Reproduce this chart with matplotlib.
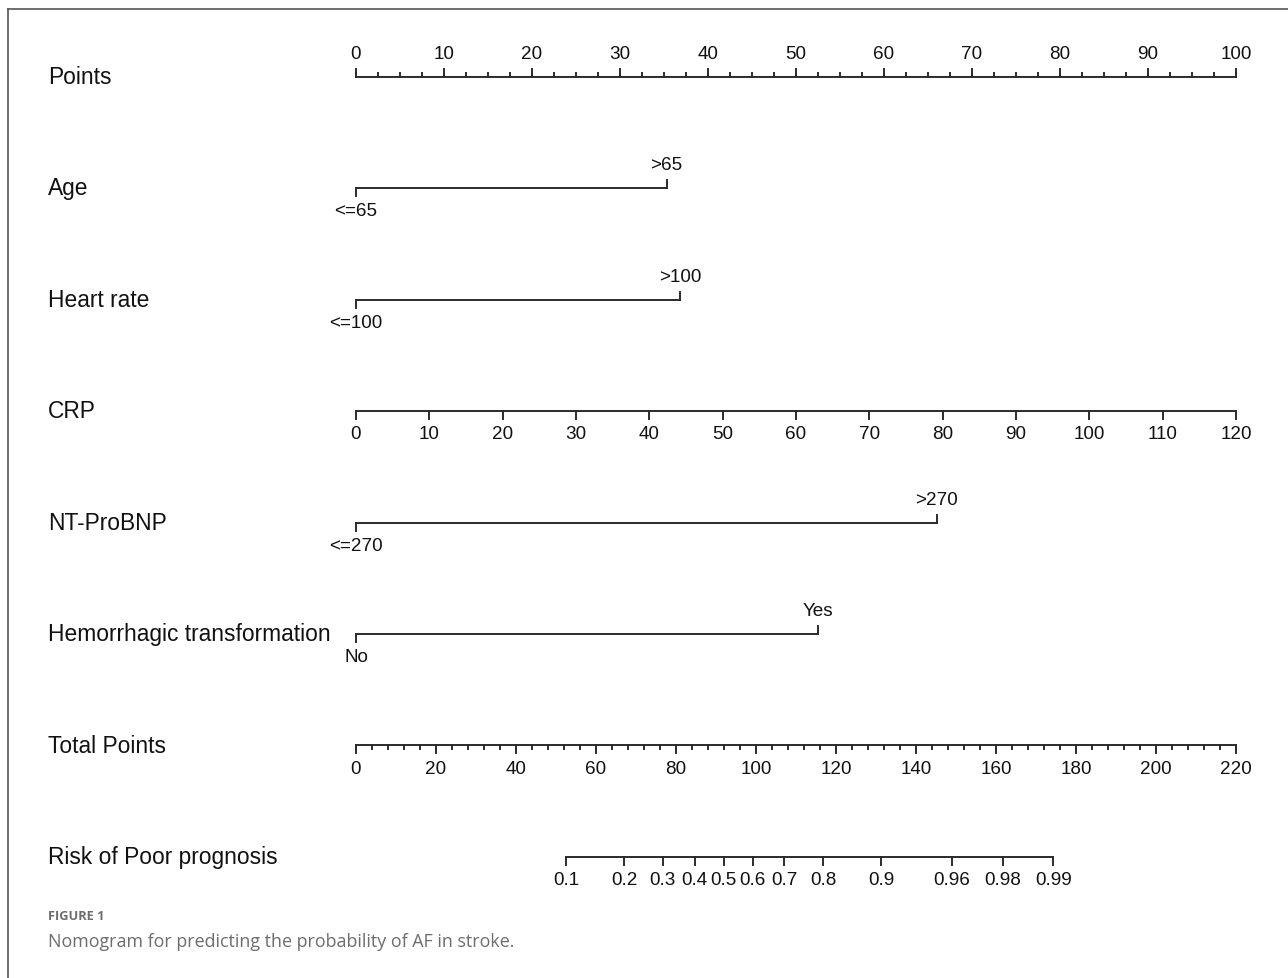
import numpy as np
import matplotlib
matplotlib.use("Agg")
import matplotlib.pyplot as plt
from matplotlib.lines import Line2D
from matplotlib.transforms import blended_transform_factory

plt.rcParams['font.family'] = ['Liberation Sans', 'DejaVu Sans']

# ---- data ----
row_names = ["Points", "Age", "Heart rate", "CRP", "NT-ProBNP",
             "Hemorrhagic transformation", "Total Points", "Risk of Poor prognosis"]

points_ticks = np.arange(0, 101, 10)
points_minor = np.arange(0, 100.1, 2.5)

# categorical predictors: (low label, high label), points for high level
age_levels = ["<=65", ">65"]
age_points = [0, 35.3]
hr_levels = ["<=100", ">100"]
hr_points = [0, 36.8]
ntbnp_levels = ["<=270", ">270"]
ntbnp_points = [0, 66.0]
ht_levels = ["No", "Yes"]
ht_points = [0, 52.5]

# continuous predictor CRP: 0..120 -> 0..100 points
crp_ticks = np.arange(0, 121, 10)
crp_max_points = 100.0
crp_max = 120.0

# total points axis
total_ticks = np.arange(0, 221, 20)
total_minor = np.arange(0, 220.1, 4)
total_max = 220.0

# risk axis: logistic model on total points
risk_probs = [0.1, 0.2, 0.3, 0.4, 0.5, 0.6, 0.7, 0.8, 0.9, 0.96, 0.98, 0.99]
risk_labels = ["0.1", "0.2", "0.3", "0.4", "0.5", "0.6", "0.7", "0.8", "0.9", "0.96", "0.98", "0.99"]
tp_at_half = 91.9        # total points where risk = 0.5
tp_per_logit = 17.93     # total points per unit of linear predictor

# ---- layout ----
W, H = 1288, 979
fig = plt.figure(figsize=(W / 100, H / 100), dpi=100)
ax = fig.add_axes([0, 0, 1, 1])
ax.axis('off')

x0_px, x1_px = 356, 1236          # 0 and 100 points
ppx = 100.0 / (x1_px - x0_px)
ax.set_xlim(-x0_px * ppx, 100 + (W - x1_px) * ppx)
row0_px, row_gap = 77.5, 111.5
ax.set_ylim((H - row0_px) / row_gap, -row0_px / row_gap)
PX = 1.0 / row_gap                # one pixel in row units

LC = '#2b2b2b'
LW = 1.4
TICK_FS = 13.6
LABEL_FS = 16.4
MAJ, MIN = 8 * PX, 4 * PX
OFF = 23 * PX

lab_tr = blended_transform_factory(fig.transFigure, ax.transData)
for i, name in enumerate(row_names):
    ax.text(48 / W, i, name, transform=lab_tr, fontsize=LABEL_FS,
            va='center', ha='left', color='#111111')


def scale_axis(row, xs, labels, minor_xs=None, up=True):
    ax.plot([xs[0], xs[-1]], [row, row], color=LC, lw=LW, solid_capstyle='butt')
    sgn = -1 if up else 1
    if minor_xs is not None:
        for x in minor_xs:
            ax.plot([x, x], [row, row + sgn * MIN], color=LC, lw=LW)
    for x, lab in zip(xs, labels):
        ax.plot([x, x], [row, row + sgn * MAJ], color=LC, lw=LW)
        ax.text(x, row + sgn * OFF, lab, ha='center', va='center',
                fontsize=TICK_FS, color='#111111')


def cat_axis(row, pts, levels):
    ax.plot([pts[0], pts[1]], [row, row], color=LC, lw=LW)
    ax.plot([pts[0], pts[0]], [row, row + MAJ], color=LC, lw=LW)
    ax.plot([pts[1], pts[1]], [row, row - MAJ], color=LC, lw=LW)
    ax.text(pts[0], row + OFF, levels[0], ha='center', va='center',
            fontsize=TICK_FS, color='#111111')
    ax.text(pts[1], row - OFF, levels[1], ha='center', va='center',
            fontsize=TICK_FS, color='#111111')


# Points
scale_axis(0, points_ticks, [str(v) for v in points_ticks], points_minor, up=True)
# categorical rows
cat_axis(1, age_points, age_levels)
cat_axis(2, hr_points, hr_levels)
# CRP
scale_axis(3, crp_ticks * crp_max_points / crp_max, [str(v) for v in crp_ticks], up=False)
cat_axis(4, ntbnp_points, ntbnp_levels)
cat_axis(5, ht_points, ht_levels)
# Total points
scale_axis(6, total_ticks * 100 / total_max, [str(v) for v in total_ticks],
           total_minor * 100 / total_max, up=False)
# Risk
p = np.array(risk_probs)
risk_tp = tp_at_half + np.log(p / (1 - p)) * tp_per_logit
scale_axis(7, risk_tp * 100 / total_max, risk_labels, up=False)

# frame (left and top rules)
fig.add_artist(Line2D([8 / W, 8 / W], [0, 1 - 10 / H], color='#555555', lw=1.2,
                      transform=fig.transFigure))
fig.add_artist(Line2D([8 / W, 1], [1 - 10 / H, 1 - 10 / H], color='#555555', lw=1.2,
                      transform=fig.transFigure))

# caption
fig.text(48 / W, 1 - 917 / H, "FIGURE 1", fontsize=9.2, fontweight='bold',
         color='#6d6d6d', family=['Open Sans', 'DejaVu Sans'], va='center', ha='left')
fig.text(48 / W, 1 - 942 / H, "Nomogram for predicting the probability of AF in stroke.",
         fontsize=12.9, color='#6d6d6d', family=['Open Sans', 'DejaVu Sans'],
         va='center', ha='left')

fig.savefig("out.png", dpi=100)
